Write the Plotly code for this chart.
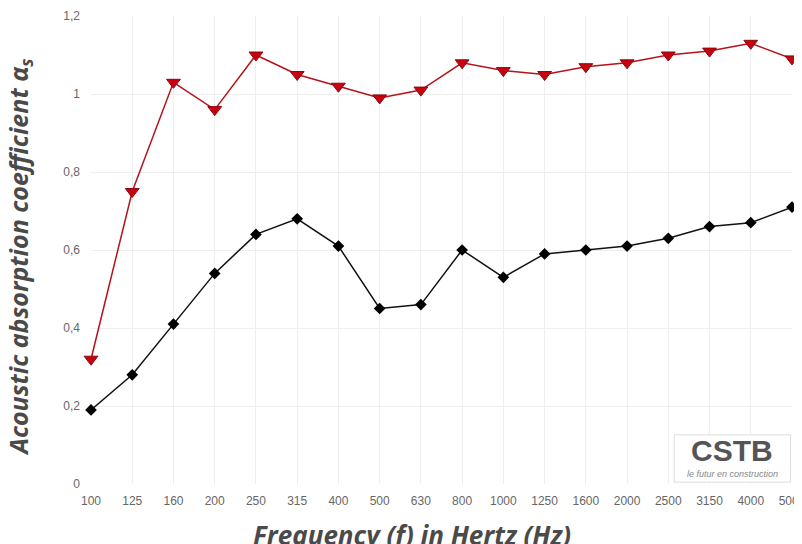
import plotly.graph_objects as go

frequencies = ["100", "125", "160", "200", "250", "315", "400", "500", "630", "800",
               "1000", "1250", "1600", "2000", "2500", "3150", "4000", "5000"]
upper_series = [0.32, 0.75, 1.03, 0.96, 1.10, 1.05, 1.02, 0.99, 1.01, 1.08,
                1.06, 1.05, 1.07, 1.08, 1.10, 1.11, 1.13, 1.09]
lower_series = [0.19, 0.28, 0.41, 0.54, 0.64, 0.68, 0.61, 0.45, 0.46, 0.60,
                0.53, 0.59, 0.60, 0.61, 0.63, 0.66, 0.67, 0.71]

fig = go.Figure()
fig.add_trace(go.Scatter(
    x=frequencies, y=lower_series, mode="lines+markers",
    line=dict(color="#111111", width=1.5),
    marker=dict(symbol="diamond", size=9, color="#000000"),
    showlegend=False, cliponaxis=False))
fig.add_trace(go.Scatter(
    x=frequencies, y=upper_series, mode="lines+markers",
    line=dict(color="#b5121b", width=1.5),
    marker=dict(symbol="triangle-down", size=12, color="#c8000f",
                line=dict(color="#8a0a10", width=1)),
    showlegend=False, cliponaxis=False))

fig.update_layout(
    width=802, height=544,
    margin=dict(l=83, r=18, t=8, b=68),
    paper_bgcolor="white", plot_bgcolor="white",
    separators=", ",
    font=dict(family="Liberation Sans, Arial, sans-serif", color="#666666", size=12),
    xaxis=dict(type="category", range=[0, 17], showgrid=True, gridcolor="#eeeeee",
               gridwidth=1, zeroline=False, showline=False, ticks="",
               ticklabelstandoff=8, automargin=False,
               tickfont=dict(size=12, color="#666666")),
    yaxis=dict(range=[0, 1.2], dtick=0.2, showgrid=True, gridcolor="#eeeeee",
               zeroline=False, showline=False, ticks="", ticklabelstandoff=10,
               automargin=False, tickfont=dict(size=12, color="#666666")),
)

fig.add_annotation(xref="paper", yref="paper", x=0.458, y=-0.066,
                   xanchor="center", yanchor="top", showarrow=False,
                   text="<b><i>Frequency (f) in Hertz (Hz)</i></b>",
                   font=dict(family="Open Sans, Lato, sans-serif", size=26, color="#4a4a4a"))
fig.add_annotation(xref="paper", yref="paper", x=-0.103, y=0.485,
                   xanchor="center", yanchor="middle", showarrow=False, textangle=-90,
                   text="<b><i>Acoustic absorption coefficient α<sub>s</sub></i></b>",
                   font=dict(family="Open Sans, Lato, sans-serif", size=25, color="#4a4a4a"))

fig.add_shape(type="rect", xref="paper", yref="paper",
              x0=0.832, x1=0.998, y0=0.004, y1=0.105,
              line=dict(color="#dddddd", width=1), fillcolor="white", layer="above")
fig.add_annotation(xref="paper", yref="paper", x=0.915, y=0.072, xanchor="center",
                   yanchor="middle", showarrow=False,
                   text="<b>CSTB</b>", font=dict(family="Liberation Sans, Arial", size=30, color="#555555"))
fig.add_annotation(xref="paper", yref="paper", x=0.915, y=0.022, xanchor="center",
                   yanchor="middle", showarrow=False,
                   text="<i>le futur en construction</i>", font=dict(family="Liberation Sans, Arial", size=9, color="#888888"))

fig.write_html("out.html")
